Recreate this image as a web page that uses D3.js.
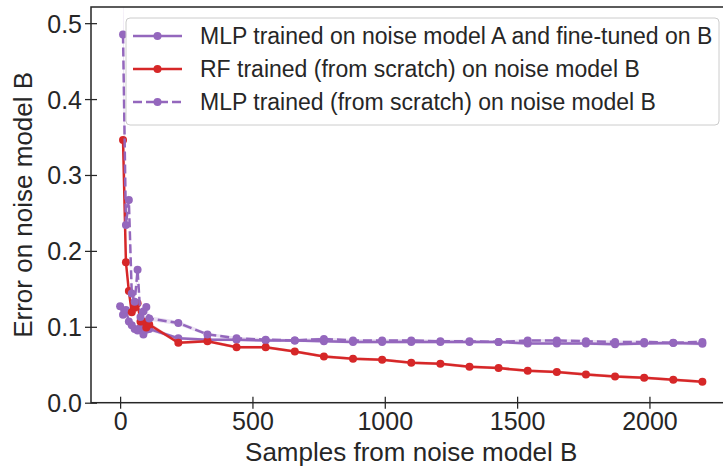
<!DOCTYPE html>
<html>
<head>
<meta charset="utf-8">
<script src="https://cdn.jsdelivr.net/npm/d3@7"></script>
<style>
  body { margin: 0; background: #fff; }
  svg { display: block; font-family: "Liberation Sans", Arial, sans-serif; }
</style>
</head>
<body>
<script>
const width = 723;
const height = 468;

// sample counts (x) and the three error curves
const samples = [11, 22, 33, 44, 55, 66, 77, 88, 99, 110,
    220, 330, 440, 550, 660, 770, 880, 990, 1100, 1210,
    1320, 1430, 1540, 1650, 1760, 1870, 1980, 2090, 2200];
const fineTunedSamples = [0].concat(samples);

const mlpFineTuned = [0.127, 0.116, 0.122, 0.107, 0.102, 0.097, 0.095, 0.099, 0.090, 0.096, 0.097,
    0.085, 0.083, 0.083, 0.082, 0.082, 0.081, 0.080, 0.080, 0.080, 0.080,
    0.080, 0.080, 0.078, 0.078, 0.078, 0.077, 0.078, 0.0785, 0.0775];
const rfScratch = [0.346, 0.185, 0.147, 0.119, 0.125, 0.131, 0.107, 0.107, 0.099, 0.103,
    0.079, 0.081, 0.073, 0.073, 0.0675, 0.061, 0.058, 0.0566, 0.0526, 0.0513,
    0.0474, 0.0456, 0.0421, 0.0404, 0.0373, 0.0346, 0.0329, 0.0303, 0.0276];
const mlpScratch = [0.485, 0.234, 0.267, 0.144, 0.133, 0.175, 0.113, 0.120, 0.126, 0.111,
    0.105, 0.090, 0.085, 0.083, 0.082, 0.084, 0.082, 0.082, 0.082, 0.081,
    0.081, 0.080, 0.082, 0.082, 0.081, 0.080, 0.080, 0.079, 0.080];

// spread shown as the faint bands
const mlpFineTunedErr = [0.004, 0.004, 0.004, 0.004, 0.003, 0.003, 0.003, 0.003, 0.003, 0.003, 0.003,
    0.002, 0.002, 0.002, 0.002, 0.002, 0.002, 0.002, 0.002, 0.002, 0.002,
    0.002, 0.002, 0.002, 0.002, 0.002, 0.002, 0.002, 0.002, 0.002];
const rfScratchErr = [0.02, 0.006, 0.004, 0.003, 0.003, 0.003, 0.003, 0.003, 0.003, 0.003,
    0.002, 0.002, 0.002, 0.002, 0.002, 0.002, 0.002, 0.002, 0.002, 0.002,
    0.002, 0.002, 0.002, 0.002, 0.002, 0.002, 0.002, 0.002, 0.002];
const mlpScratchErr = [0.08, 0.012, 0.01, 0.006, 0.005, 0.006, 0.004, 0.004, 0.004, 0.003,
    0.003, 0.002, 0.002, 0.002, 0.002, 0.002, 0.002, 0.002, 0.002, 0.002,
    0.002, 0.002, 0.002, 0.002, 0.002, 0.002, 0.002, 0.002, 0.002];

const xTicks = [0, 500, 1000, 1500, 2000];
const yTicks = [0, 0.1, 0.2, 0.3, 0.4, 0.5];

const legendLabels = [
    "MLP trained on noise model A and fine-tuned on B",
    "RF trained (from scratch) on noise model B",
    "MLP trained (from scratch) on noise model B"
];

const purple = "#9467bd";
const red = "#d62728";
const ink = "#262626";

const series = [
    { xs: fineTunedSamples, ys: mlpFineTuned, err: mlpFineTunedErr, color: purple, dash: null },
    { xs: samples, ys: rfScratch, err: rfScratchErr, color: red, dash: null },
    { xs: samples, ys: mlpScratch, err: mlpScratchErr, color: purple, dash: "9,4" }
];

const margin = { left: 91, top: 7, right: 731.5, bottom: 402.7 };

const x = d3.scaleLinear().domain([-110, 2310]).range([margin.left, margin.right]);
const y = d3.scaleLinear().domain([0, 0.5213]).range([margin.bottom, margin.top]);

const svg = d3.select("body").append("svg")
    .attr("width", width)
    .attr("height", height);

svg.append("clipPath").attr("id", "plot-clip")
    .append("rect")
    .attr("x", margin.left).attr("y", margin.top)
    .attr("width", margin.right - margin.left)
    .attr("height", margin.bottom - margin.top);

const plot = svg.append("g").attr("clip-path", "url(#plot-clip)");

series.forEach(s => {
    const pts = s.xs.map((v, i) => ({ x: v, y: s.ys[i], e: s.err[i] }));

    const area = d3.area()
        .x(d => x(d.x))
        .y0(d => y(d.y - d.e))
        .y1(d => y(d.y + d.e));
    plot.append("path")
        .datum(pts)
        .attr("d", area)
        .attr("fill", s.color)
        .attr("fill-opacity", 0.2);

    const line = d3.line().x(d => x(d.x)).y(d => y(d.y));
    plot.append("path")
        .datum(pts)
        .attr("d", line)
        .attr("fill", "none")
        .attr("stroke", s.color)
        .attr("stroke-width", 2.5)
        .attr("stroke-dasharray", s.dash);

    plot.append("g")
        .selectAll("circle")
        .data(pts)
        .enter().append("circle")
        .attr("cx", d => x(d.x))
        .attr("cy", d => y(d.y))
        .attr("r", 4)
        .attr("fill", s.color);
});

// axes
const xAxis = svg.append("g")
    .attr("transform", `translate(0,${margin.bottom})`)
    .call(d3.axisBottom(x).tickValues(xTicks).tickFormat(d3.format("d")).tickSize(6).tickPadding(4));
xAxis.selectAll(".tick line").attr("y1", -6).attr("y2", 6);

const yAxis = svg.append("g")
    .attr("transform", `translate(${margin.left},0)`)
    .call(d3.axisLeft(y).tickValues(yTicks).tickFormat(d3.format(".1f")).tickSize(6).tickPadding(3));
yAxis.selectAll(".tick line").attr("x1", 6).attr("x2", -6);

[xAxis, yAxis].forEach(a => {
    a.select(".domain").remove();
    a.selectAll(".tick line").attr("stroke", ink).attr("stroke-width", 1.25);
    a.selectAll(".tick text")
        .attr("fill", ink)
        .style("font-size", "25px")
        .style("font-family", "'Liberation Sans', Arial, sans-serif");
});
yAxis.selectAll(".tick text").attr("dy", "0.36em");

// frame
svg.append("rect")
    .attr("x", margin.left).attr("y", margin.top)
    .attr("width", margin.right - margin.left)
    .attr("height", margin.bottom - margin.top)
    .attr("fill", "none")
    .attr("stroke", ink)
    .attr("stroke-width", 1.5);

svg.append("text")
    .attr("x", (margin.left + margin.right) / 2)
    .attr("y", 461)
    .attr("text-anchor", "middle")
    .attr("fill", ink)
    .style("font-size", "26px")
    .text("Samples from noise model B");

svg.append("text")
    .attr("transform", `translate(32,${(margin.top + margin.bottom) / 2}) rotate(-90)`)
    .attr("text-anchor", "middle")
    .attr("fill", ink)
    .style("font-size", "26px")
    .text("Error on noise model B");

// legend
const legend = svg.append("g").attr("transform", "translate(126,18)");
legend.append("rect")
    .attr("width", 593).attr("height", 107)
    .attr("rx", 4)
    .attr("fill", "#fff").attr("fill-opacity", 0.8)
    .attr("stroke", "#cccccc").attr("stroke-width", 1);

legendLabels.forEach((label, i) => {
    const s = series[i];
    const row = legend.append("g").attr("transform", `translate(0,${18 + i * 33})`);
    row.append("line")
        .attr("x1", 7).attr("x2", 56)
        .attr("stroke", s.color).attr("stroke-width", 2.5)
        .attr("stroke-dasharray", s.dash);
    row.append("circle").attr("cx", 31.5).attr("r", 4).attr("fill", s.color);
    row.append("text")
        .attr("x", 74).attr("dy", "0.36em")
        .attr("fill", ink)
        .style("font-size", "23px")
        .text(label);
});
</script>
</body>
</html>
